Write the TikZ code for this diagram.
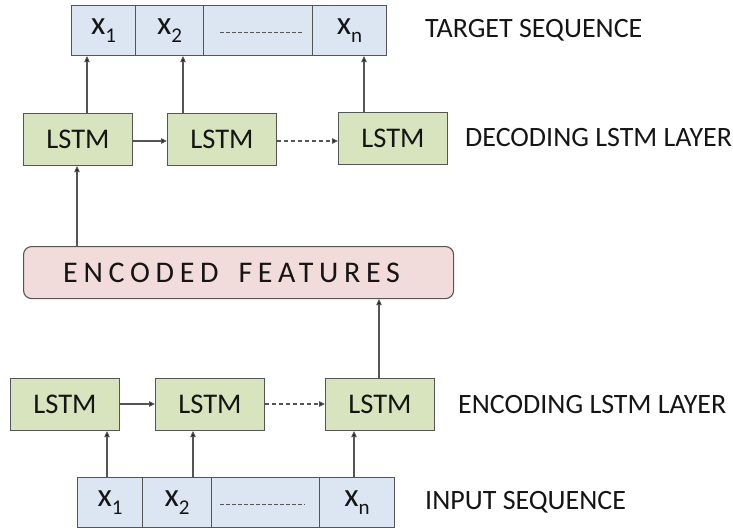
\documentclass[tikz,border=0pt]{standalone}
\usepackage{fontspec}
\setmainfont{Carlito}
\newfontfamily\spaced[LetterSpace=19]{Carlito}
\usetikzlibrary{arrows.meta}
\definecolor{lstmfill}{HTML}{D7E4BD}
\definecolor{seqfill}{HTML}{DCE6F2}
\definecolor{featfill}{HTML}{F2DCDB}
\definecolor{edge}{HTML}{555555}
\definecolor{ink}{HTML}{151515}
\newcommand{\sub}[2]{#1\raisebox{-0.26em}{\fontsize{21}{21}\selectfont #2}}
\tikzset{
  lstmbox/.style={draw=edge, line width=1.1pt, fill=lstmfill, text=ink,
    minimum width=109pt, minimum height=52pt, inner sep=0pt, anchor=north west,
    font=\fontsize{28.5}{28.5}\selectfont},
  cell/.style={draw=edge, line width=1.1pt, fill=seqfill, text=ink,
    minimum height=50pt, inner sep=0pt, anchor=north west,
    font=\fontsize{33}{33}\selectfont},
  label/.style={anchor=west, text=ink, inner sep=0pt, font=\fontsize{28}{28}\selectfont},
  arr/.style={draw=edge, line width=1.1pt, -{Triangle[length=6pt,width=5.5pt,fill=ink]}},
  dotted arr/.style={arr, dash pattern=on 4pt off 3pt},
  gapline/.style={draw=edge, line width=1.1pt, dash pattern=on 3.5pt off 2.5pt},
}
\begin{document}
\begin{tikzpicture}[x=1pt,y=-1pt]
\useasboundingbox (0,0) rectangle (733,531);

% target sequence
\node[cell, minimum width=64pt]  (t1) at (71,5)  {\sub{x}{1}};
\node[cell, minimum width=68pt]  (t2) at (135,5) {\sub{x}{2}};
\node[cell, minimum width=109pt] (t3) at (203,5) {};
\node[cell, minimum width=74pt]  (tn) at (312,5) {\sub{x}{n}};
\draw[gapline] ([xshift=17pt,yshift=-2pt]t3.west) -- ([xshift=-10pt,yshift=-2pt]t3.east);

% decoding layer
\node[lstmbox] (d1) at (23,113)  {LSTM};
\node[lstmbox] (d2) at (167,113) {LSTM};
\node[lstmbox] (d3) at (338,112) {LSTM};

% encoded features
\node[draw=edge, line width=1.1pt, fill=featfill, rounded corners=8pt, text=ink,
  minimum width=430pt, minimum height=52pt, inner sep=0pt, anchor=north west,
  font=\fontsize{30}{30}\spaced] (enc) at (23,246)
  {\hspace{-14pt}ENCODED\hspace{20pt}FEATURES};

% encoding layer
\node[lstmbox] (e1) at (10,378)  {LSTM};
\node[lstmbox] (e2) at (155,378) {LSTM};
\node[lstmbox] (e3) at (325,378) {LSTM};

% input sequence
\node[cell, minimum width=65pt]  (i1) at (77,477)  {\sub{x}{1}};
\node[cell, minimum width=69pt]  (i2) at (142,477) {\sub{x}{2}};
\node[cell, minimum width=108pt] (i3) at (211,477) {};
\node[cell, minimum width=75pt]  (in) at (319,477) {\sub{x}{n}};
\draw[gapline] ([xshift=9pt,yshift=-2pt]i3.west) -- ([xshift=-16pt,yshift=-2pt]i3.east);

% labels
\node[label] (lt) at (425,30)  {TARGET SEQUENCE};
\node[label] (ld) at (465,138) {DECODING LSTM LAYER};
\node[label] (le) at (458,405) {ENCODING LSTM LAYER};
\node[label] (li) at (425,502) {INPUT SEQUENCE};

% input to encoder
\draw[arr] (i1.north -| 107,0) -- (e1.south -| 107,0);
\draw[arr] (i2.north -| 193,0) -- (e2.south -| 193,0);
\draw[arr] (in.north -| 354,0) -- (e3.south -| 354,0);
% encoder recurrence
\draw[arr] (e1.east |- 0,404) -- (e2.west |- 0,404);
\draw[dotted arr] (e2.east |- 0,404) -- (e3.west |- 0,404);
% encoder to features, features to decoder
\draw[arr] (e3.north -| 379,0) -- (enc.south -| 379,0);
\draw[arr] (enc.north -| 77,0) -- (d1.south -| 77,0);
% decoder recurrence
\draw[arr] (d1.east |- 0,141) -- (d2.west |- 0,141);
\draw[dotted arr] (d2.east |- 0,141) -- (d3.west |- 0,141);
% decoder to target
\draw[arr] (d1.north -| 87,0) -- (t1.south -| 87,0);
\draw[arr] (d2.north -| 183,0) -- (t2.south -| 183,0);
\draw[arr] (d3.north -| 364,0) -- (tn.south -| 364,0);
\end{tikzpicture}
\end{document}
